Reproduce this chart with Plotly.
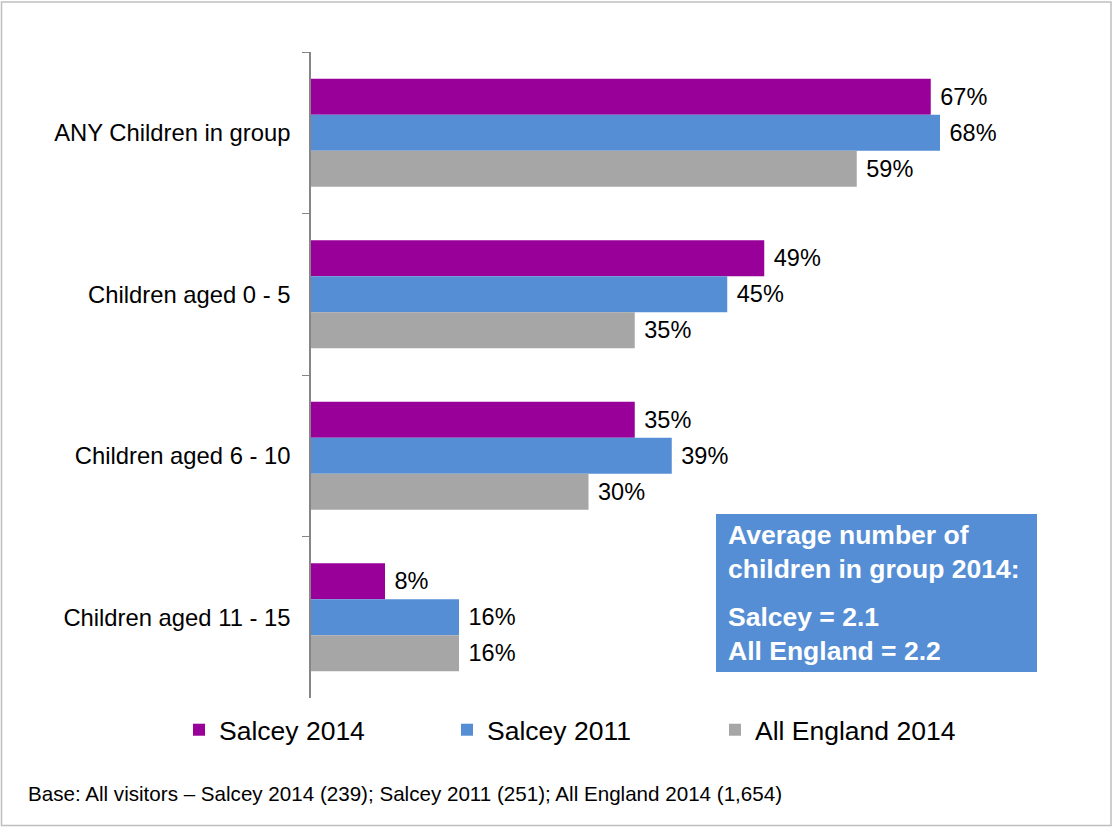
import plotly.graph_objects as go

# Share of visitor groups containing children, by age band
categories = ["ANY Children in group", "Children aged 0 - 5",
              "Children aged 6 - 10", "Children aged 11 - 15"]
series_names = ["Salcey 2014", "Salcey 2011", "All England 2014"]
salcey_2014 = [67, 49, 35, 8]
salcey_2011 = [68, 45, 39, 16]
england_2014 = [59, 35, 30, 16]
series_values = [salcey_2014, salcey_2011, england_2014]
series_colors = ["#990099", "#558ED5", "#A6A6A6"]

box_heading = "Average number of<br>children in group 2014:"
box_values = "Salcey = 2.1<br>All England = 2.2"
base_note = ("Base: All visitors \u2013 Salcey 2014 (239); Salcey 2011 (251); "
             "All England 2014 (1,654)")

FONT = "Arial, 'Liberation Sans', sans-serif"

W, H = 1113, 827
L, R, T, B = 311, 62, 52, 129
pw, ph = W - L - R, H - T - B


def px(x):
    return (x - L) / pw


def py(y):
    return (H - B - y) / ph


fig = go.Figure()
for name, vals, col in zip(series_names, series_values, series_colors):
    fig.add_trace(go.Bar(
        name=name, y=categories, x=vals, orientation="h",
        marker=dict(color=col, line=dict(width=0)),
        texttemplate="\u00a0%{x}%", textposition="outside",
        textfont=dict(family=FONT, size=23.5, color="#000000"),
        constraintext="none", cliponaxis=False,
    ))

fig.update_layout(
    width=W, height=H,
    margin=dict(l=L, r=R, t=T, b=B, autoexpand=False),
    paper_bgcolor="white", plot_bgcolor="white",
    barmode="group", bargap=0.331, bargroupgap=0,
    font=dict(family=FONT, color="#000000"),
    showlegend=True,
    legend=dict(
        orientation="h", x=px(179), xanchor="left", y=py(730), yanchor="middle",
        font=dict(family=FONT, size=26.5, color="#000000"),
        entrywidth=223, entrywidthmode="pixels",
        traceorder="normal", itemclick=False,
    ),
    xaxis=dict(range=[0, 80], visible=False, fixedrange=True),
    yaxis=dict(
        autorange="reversed", type="category",
        showline=True, linecolor="#868686", linewidth=1.5,
        ticks="outside", tickson="boundaries", ticklen=7, tickcolor="#868686",
        tickwidth=1.2, ticklabelstandoff=14,
        tickfont=dict(family=FONT, size=23.8, color="#000000"),
        showgrid=False, zeroline=False,
    ),
)

# outer frame of the chart
fig.add_shape(type="rect", xref="paper", yref="paper",
              x0=px(1.5), x1=px(1111), y0=py(825.5), y1=py(2),
              line=dict(color="#BFBFBF", width=1.5), fillcolor="rgba(0,0,0,0)",
              layer="below")

# callout box with average group sizes
fig.add_shape(type="rect", xref="paper", yref="paper",
              x0=px(716), x1=px(1037), y0=py(672), y1=py(514),
              line=dict(width=0), fillcolor="#558ED5")
fig.add_annotation(xref="paper", yref="paper", x=px(726), y=py(552),
                   xanchor="left", yanchor="middle", align="left",
                   text="<b>" + box_heading + "</b>", showarrow=False,
                   font=dict(family=FONT, size=26.5, color="white"))
fig.add_annotation(xref="paper", yref="paper", x=px(726), y=py(633.5),
                   xanchor="left", yanchor="middle", align="left",
                   text="<b>" + box_values + "</b>", showarrow=False,
                   font=dict(family=FONT, size=26.5, color="white"))

fig.add_annotation(xref="paper", yref="paper", x=px(26), y=py(793),
                   xanchor="left", yanchor="middle", align="left",
                   text=base_note, showarrow=False,
                   font=dict(family=FONT, size=20.6, color="#000000"))

fig.write_html("out.html")
